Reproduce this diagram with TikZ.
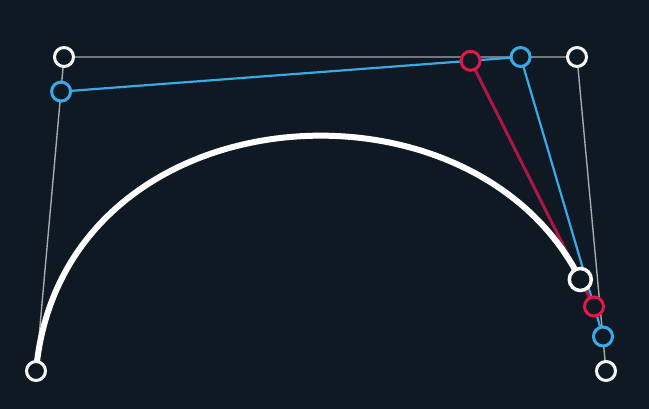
\documentclass[tikz,border=0pt]{standalone}
\definecolor{bg}{HTML}{0F1923}
\definecolor{polyc}{HTML}{A7AAAE}
\definecolor{bluec}{HTML}{3BA9E6}
\definecolor{redc}{HTML}{E2184C}
\definecolor{redl}{HTML}{B0154A}
\begin{document}
\begin{tikzpicture}[x=1pt,y=-1pt,
  poly/.style={draw=polyc,line width=1.4pt},
  bline/.style={draw=bluec,line width=2.2pt},
  rline/.style={draw=redl,line width=3pt},
  curv/.style={draw=white,line width=6pt,line cap=round},
  pt/.style={circle,fill=bg,line width=3pt,minimum size=19pt,inner sep=0pt},
  wpt/.style={pt,draw=white!92!gray},
  bpt/.style={pt,draw=bluec},
  rpt/.style={pt,draw=redc},
  spt/.style={circle,fill=bg,draw=white,line width=3.5pt,minimum size=22pt,inner sep=0pt}]
\fill[bg] (0,0) rectangle (649,409);
\useasboundingbox (0,0) rectangle (649,409);
\coordinate (p0) at (36,371);
\coordinate (p1) at (64,57);
\coordinate (p2) at (577,57);
\coordinate (p3) at (606,371);
\coordinate (q0) at (61.1,91.6);
\coordinate (q1) at (520.6,57);
\coordinate (q2) at (603,336.5);
\coordinate (r0) at (470.6,60.8);
\coordinate (r1) at (594,306.5);
\coordinate (s) at (580.3,279.5);
% control polygon
\draw[poly] (p0) -- (p1) -- (p2) -- (p3);
% blue level
\draw[bline] (q0) -- (q1) -- (q2);
% red level
\draw[rline] (r0) -- (r1);
% partial curve
\draw[curv] (p0) .. controls (q0) and (r0) .. (s);
% points
\node[wpt] (n0) at (p0) {};
\node[wpt] (n1) at (p1) {};
\node[wpt] (n2) at (p2) {};
\node[wpt] (n3) at (p3) {};
\node[bpt] (m0) at (q0) {};
\node[bpt] (m1) at (q1) {};
\node[bpt] (m2) at (q2) {};
\node[rpt] (k0) at (r0) {};
\node[rpt] (k1) at (r1) {};
\node[spt] (ns) at (s) {};
\end{tikzpicture}
\end{document}
